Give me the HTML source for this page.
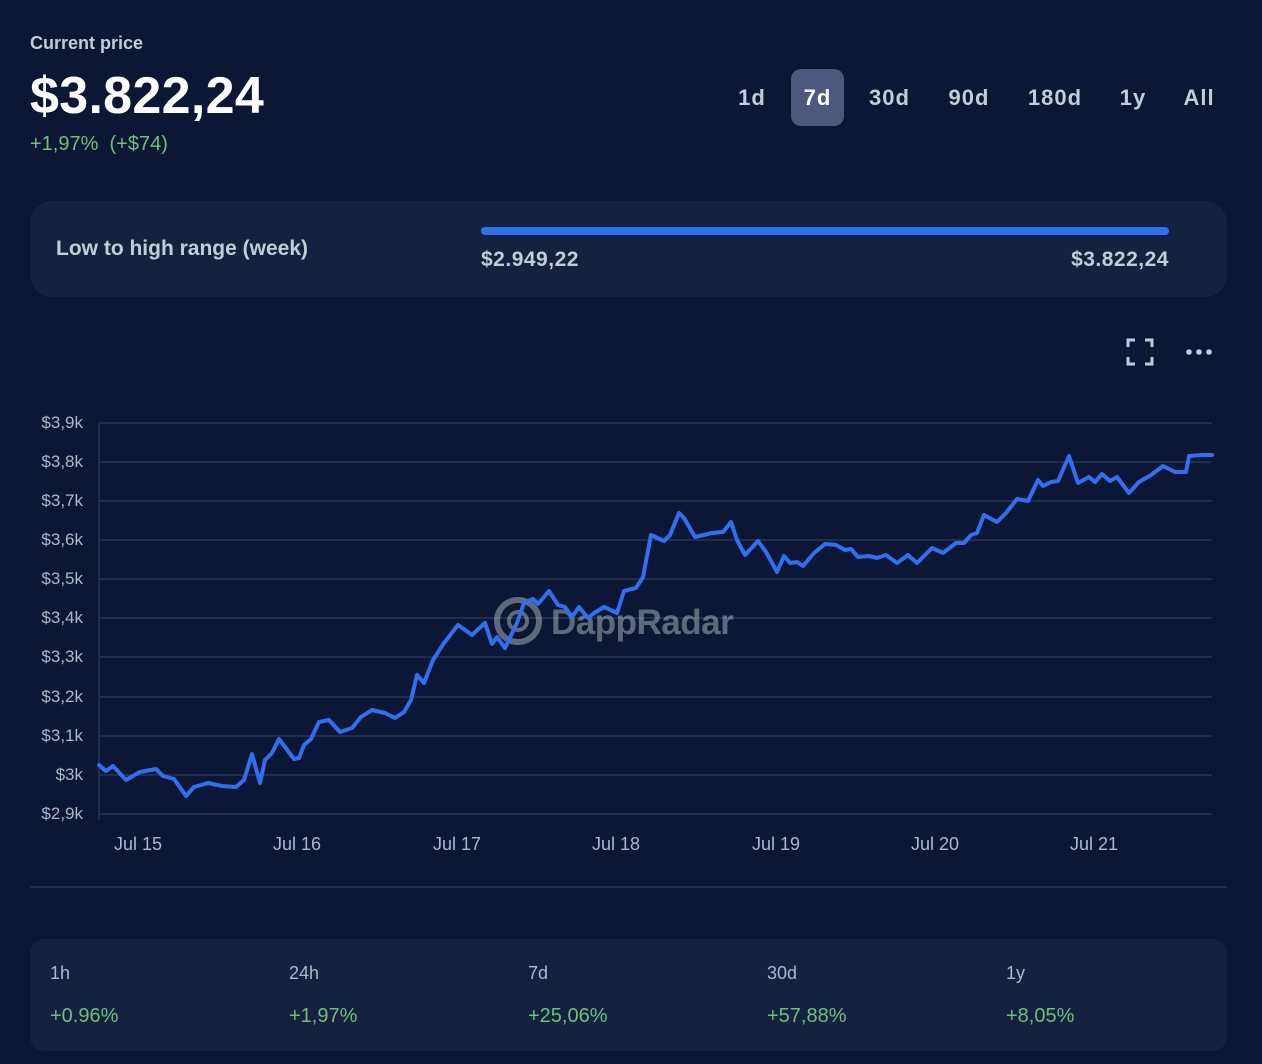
<!DOCTYPE html>
<html><head><meta charset="utf-8"><style>
body{margin:0;width:1262px;height:1064px;background:#0b1734;font-family:"Liberation Sans",sans-serif;color:#fff;position:relative;overflow:hidden}
.a{position:absolute}
.btn{position:absolute;top:69px;height:57px;line-height:57px;font-size:22px;font-weight:bold;color:#c4ccd9;letter-spacing:1px;text-align:center}
.card{position:absolute;background:#14223f;border-radius:22px}
.yl{position:absolute;left:0;width:83px;text-align:right;font-size:17px;color:#aeb8c9}
.xl{position:absolute;top:834px;font-size:18px;color:#aeb8c9}
.sl{position:absolute;top:963px;font-size:18px;color:#aeb8c9}
.sv{position:absolute;top:1005px;font-size:20px;color:#6fbf7a}
</style></head><body>
<div class="a" style="left:30px;top:33px;font-size:18px;font-weight:bold;color:#c4ccd9">Current price</div>
<div class="a" style="left:30px;top:66px;font-size:52px;font-weight:bold;letter-spacing:0.3px">$3.822,24</div>
<div class="a" style="left:30px;top:133px;font-size:20px;color:#6fbf7a">+1,97%&nbsp; (+$74)</div>
<div class="btn" style="left:730px;width:44px">1d</div>
<div class="btn" style="left:791px;width:53px;background:#4b5a7c;border-radius:10px;color:#fff">7d</div>
<div class="btn" style="left:862px;width:55px">30d</div>
<div class="btn" style="left:940px;width:58px">90d</div>
<div class="btn" style="left:1020px;width:70px">180d</div>
<div class="btn" style="left:1113px;width:40px">1y</div>
<div class="btn" style="left:1178px;width:42px">All</div>
<div class="card" style="left:30px;top:201px;width:1197px;height:96px"></div>
<div class="a" style="left:56px;top:237px;font-size:21px;font-weight:bold;color:#c4ccd9">Low to high range (week)</div>
<div class="a" style="left:481px;top:227px;width:688px;height:8px;background:#2f6ff0;border-radius:4px"></div>
<div class="a" style="left:481px;top:248px;font-size:21px;font-weight:bold;color:#c4ccd9;letter-spacing:0.5px">$2.949,22</div>
<div class="a" style="right:93px;top:248px;font-size:21px;font-weight:bold;color:#c4ccd9;letter-spacing:0.5px">$3.822,24</div>
<svg class="a" style="left:1126px;top:338px" width="28" height="28"><path d="M2 9V2H9M19 2H26V9M26 19V26H19M9 26H2V19" stroke="#c4ccd9" stroke-width="3" fill="none"/></svg>
<svg class="a" style="left:1186px;top:348px" width="28" height="8"><circle cx="3" cy="4" r="2.8" fill="#c4ccd9"/><circle cx="13" cy="4" r="2.8" fill="#c4ccd9"/><circle cx="23" cy="4" r="2.8" fill="#c4ccd9"/></svg>
<svg class="a" style="left:0;top:0" width="1262" height="900">
<g stroke="#26365a" stroke-width="1.5">
<line x1="100" x2="1212" y1="423" y2="423"/><line x1="100" x2="1212" y1="462" y2="462"/><line x1="100" x2="1212" y1="501" y2="501"/><line x1="100" x2="1212" y1="540" y2="540"/><line x1="100" x2="1212" y1="579" y2="579"/><line x1="100" x2="1212" y1="618" y2="618"/><line x1="100" x2="1212" y1="657" y2="657"/><line x1="100" x2="1212" y1="697" y2="697"/><line x1="100" x2="1212" y1="736" y2="736"/><line x1="100" x2="1212" y1="775" y2="775"/><line x1="100" x2="1212" y1="814" y2="814"/>
<line x1="99" x2="99" y1="423" y2="820"/>
<line x1="30" x2="1227" y1="887" y2="887"/>
</g>
<g opacity="0.45" fill="#c8ccd4"><circle cx="518" cy="621" r="21" fill="none" stroke="#c8ccd4" stroke-width="6"/><circle cx="518" cy="621" r="9" fill="none" stroke="#c8ccd4" stroke-width="4"/>
<text x="551" y="634" font-size="35" font-weight="bold" font-family="Liberation Sans,sans-serif" letter-spacing="-0.5">DappRadar</text></g>
<polyline fill="none" stroke="#2f6ff0" stroke-width="4" stroke-linejoin="round" stroke-linecap="round" points="99,765 106,771 113,766 126,780 140,772 156,769 163,776 174,779 186,796 194,787 208,783 222,786 236,787 244,780 252,754 260,783 265,760 272,753 279,739 294,759 299,758 304,745 311,739 319,722 329,720 340,732 352,728 361,717 372,710 385,713 395,718 404,712 411,700 417,675 424,683 433,660 444,643 458,625 472,635 485,623 492,644 497,637 505,648 517,623 524,603 533,599 538,604 549,591 558,605 565,607 572,617 579,607 588,618 594,613 604,607 617,613 624,591 636,588 643,577 651,535 664,541 670,535 679,513 684,518 695,537 712,533 723,532 731,522 737,540 745,555 758,541 766,552 777,572 784,556 790,563 797,562 803,566 814,553 825,544 836,545 845,550 851,549 858,557 869,556 877,558 886,555 897,563 908,555 917,563 932,548 943,553 956,543 964,543 971,535 977,533 984,515 997,522 1006,513 1017,499 1028,501 1038,480 1043,486 1051,482 1058,481 1069,456 1078,483 1089,477 1095,482 1102,474 1110,481 1117,477 1129,493 1139,482 1151,475 1163,466 1175,472 1186,472 1189,456 1202,455 1212,455"/>
</svg>
<div class="yl" style="top:413px">$3,9k</div><div class="yl" style="top:452px">$3,8k</div><div class="yl" style="top:491px">$3,7k</div><div class="yl" style="top:530px">$3,6k</div><div class="yl" style="top:569px">$3,5k</div><div class="yl" style="top:608px">$3,4k</div><div class="yl" style="top:647px">$3,3k</div><div class="yl" style="top:687px">$3,2k</div><div class="yl" style="top:726px">$3,1k</div><div class="yl" style="top:765px">$3k</div><div class="yl" style="top:804px">$2,9k</div>
<div class="xl" style="left:114px">Jul 15</div><div class="xl" style="left:273px">Jul 16</div><div class="xl" style="left:433px">Jul 17</div><div class="xl" style="left:592px">Jul 18</div><div class="xl" style="left:752px">Jul 19</div><div class="xl" style="left:911px">Jul 20</div><div class="xl" style="left:1070px">Jul 21</div>
<div class="card" style="left:30px;top:939px;width:1197px;height:112px;border-radius:14px"></div>
<div class="sl" style="left:50px">1h</div><div class="sv" style="left:50px">+0.96%</div>
<div class="sl" style="left:289px">24h</div><div class="sv" style="left:289px">+1,97%</div>
<div class="sl" style="left:528px">7d</div><div class="sv" style="left:528px">+25,06%</div>
<div class="sl" style="left:767px">30d</div><div class="sv" style="left:767px">+57,88%</div>
<div class="sl" style="left:1006px">1y</div><div class="sv" style="left:1006px">+8,05%</div>
</body></html>
